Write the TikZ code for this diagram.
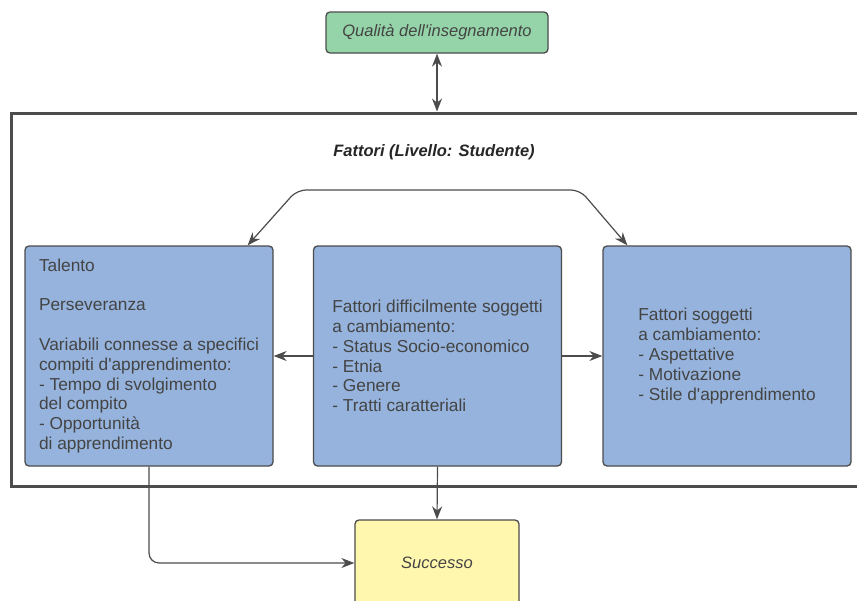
\documentclass[tikz,border=0pt]{standalone}
\usepackage{fontspec}
\setmainfont{Liberation Sans}[Ligatures=TeXOff]
\usetikzlibrary{arrows.meta}
\definecolor{boxgreen}{HTML}{95D4A8}
\definecolor{boxblue}{HTML}{95B3DC}
\definecolor{boxyellow}{HTML}{FFF7AE}
\definecolor{edgegray}{HTML}{4C4C4C}
\definecolor{txtgray}{HTML}{444444}
\begin{document}
\begin{tikzpicture}[x=1pt,y=-1pt,
  every node/.style={font=\fontsize{17.3}{19.8}\selectfont},
  box/.style={draw=edgegray, line width=1.3pt, rounded corners=4pt,
    text=txtgray, align=left, inner sep=0pt},
  factor/.style={box, fill=boxblue, minimum width=248pt, minimum height=220pt},
  link/.style={draw=edgegray, line width=1.2pt,
    -{Stealth[length=13pt,width=10pt]}},
  biglink/.style={link, {Stealth[length=13pt,width=10pt]}-{Stealth[length=13pt,width=10pt]}}
]
\clip (0,0) rectangle (857,600);
\fill[white] (0,0) rectangle (857,600);

% outer frame of the student level (open towards the right edge)
\draw[edgegray, line width=3pt] (880,113) -- (11,113) -- (11,486) -- (880,486);

\node[font=\fontsize{16.5}{19.8}\selectfont\bfseries\itshape, text=black!85]
  (title) at (434,152) {Fattori (Livello: Studente)};

% top and bottom boxes
\node[box, fill=boxgreen, minimum width=222pt, minimum height=41pt,
  font=\fontsize{16.5}{19.8}\selectfont\itshape] (teach) at (437,32.5) {Qualità dell'insegnamento};
\node[box, fill=boxyellow, minimum width=164pt, minimum height=86pt,
  font=\fontsize{16.5}{19.8}\selectfont\itshape] (succ) at (437,563) {Successo};

% the three factor groups
\node[factor] (left) at (149,356) {Talento\\[19.8pt]Perseveranza\\[19.8pt]Variabili connesse a specifici\\compiti d'apprendimento:\\- Tempo di svolgimento\\del compito\\- Opportunità\\di apprendimento};
\node[factor] (mid) at (437.5,356) {Fattori difficilmente soggetti\\a cambiamento:\\- Status Socio-economico\\- Etnia\\- Genere\\- Tratti caratteriali};
\node[factor] (right) at (727,356) {Fattori soggetti\\a cambiamento:\\- Aspettative\\- Motivazione\\- Stile d'apprendimento};

% connectors
\coordinate (ftop) at (437,111.5);
\draw[biglink] (teach.south) -- (ftop);
\draw[biglink, rounded corners=9pt] ([xshift=-26pt]left.north east) -- (297,190) -- (580,190) -- ([xshift=25pt]right.north west);
\draw[link] (mid.west) -- (left.east);
\draw[link] (mid.east) -- (right.west);
\draw[link] (mid.south) -- (succ.north);
\draw[link, rounded corners=10pt] (left.south) |- (succ.west);
\end{tikzpicture}
\end{document}
